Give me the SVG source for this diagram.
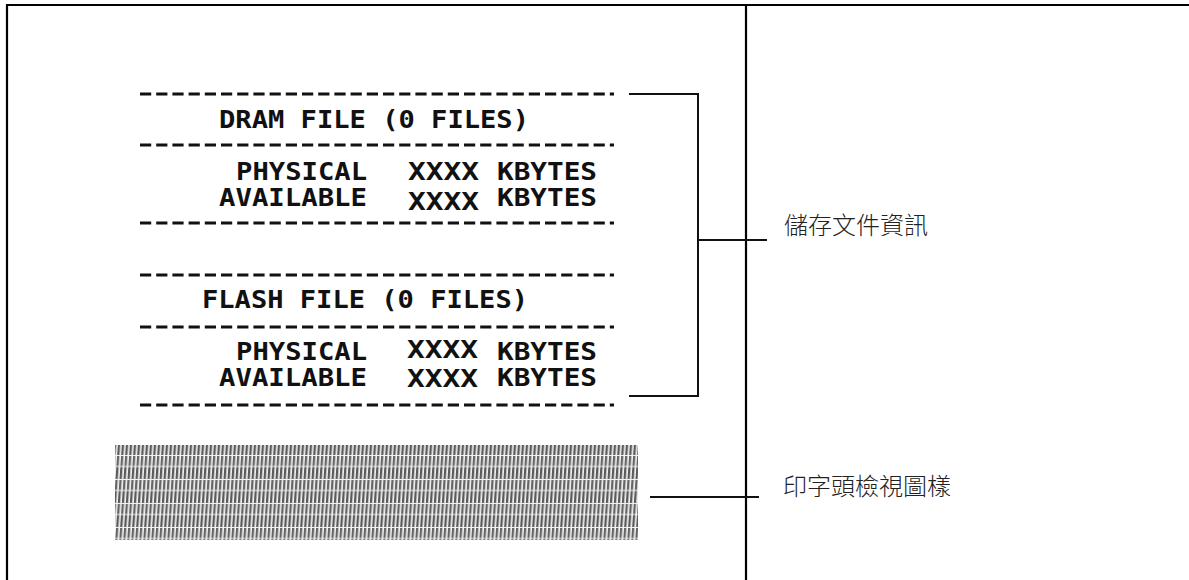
<svg xmlns="http://www.w3.org/2000/svg" width="1189" height="580" viewBox="0 0 1189 580">
<defs>
<style>
.frame{stroke:#000;stroke-width:2.2;fill:none}
.conn{stroke:#111;stroke-width:2;fill:none}
.dash{stroke:#111;stroke-width:3.2;stroke-dasharray:11.2 5}
.pt{font-family:"DejaVu Sans Mono","Liberation Mono",monospace;font-weight:bold;font-size:24px;fill:#111}
.lbl{font-family:"Noto Sans CJK TC","Noto Sans CJK SC",sans-serif;font-weight:300;font-size:24px;fill:#222}
</style>
<pattern id="stripes" patternUnits="userSpaceOnUse" width="4" height="24" patternTransform="skewX(-4)">
<rect x="0" y="0" width="4" height="24" fill="#f2f2f2"/>
<rect x="1" y="0" width="2.3" height="10" fill="#666"/>
<rect x="1" y="11" width="2.3" height="12" fill="#5a5a5a"/>
</pattern>
</defs>
<rect width="1189" height="580" fill="#fff"/>
<g id="frame">
<line class="frame" x1="6" y1="5" x2="1189" y2="5"/>
<line class="frame" x1="7" y1="4" x2="7" y2="580"/>
<line class="frame" x1="746" y1="5" x2="746" y2="580"/>
</g>
<g id="printout">
<line class="dash" x1="140" y1="94" x2="614" y2="94"/>
<text class="pt" x="219" y="128" textLength="310" lengthAdjust="spacingAndGlyphs">DRAM FILE (0 FILES)</text>
<line class="dash" x1="140" y1="145" x2="614" y2="145"/>
<text class="pt" x="236" y="180" textLength="131" lengthAdjust="spacingAndGlyphs">PHYSICAL</text>
<text class="pt" x="408" y="180" textLength="71" lengthAdjust="spacingAndGlyphs">XXXX</text>
<text class="pt" x="497" y="180" textLength="100" lengthAdjust="spacingAndGlyphs">KBYTES</text>
<text class="pt" x="219" y="206" textLength="148" lengthAdjust="spacingAndGlyphs">AVAILABLE</text>
<text class="pt" x="408" y="210" textLength="71" lengthAdjust="spacingAndGlyphs">XXXX</text>
<text class="pt" x="497" y="206" textLength="100" lengthAdjust="spacingAndGlyphs">KBYTES</text>
<line class="dash" x1="140" y1="223" x2="614" y2="223"/>
<line class="dash" x1="140" y1="275" x2="614" y2="275"/>
<text class="pt" x="202" y="308" textLength="326" lengthAdjust="spacingAndGlyphs">FLASH FILE (0 FILES)</text>
<line class="dash" x1="140" y1="327" x2="614" y2="327"/>
<text class="pt" x="236" y="360" textLength="131" lengthAdjust="spacingAndGlyphs">PHYSICAL</text>
<text class="pt" x="407" y="358" textLength="71" lengthAdjust="spacingAndGlyphs">XXXX</text>
<text class="pt" x="497" y="360" textLength="100" lengthAdjust="spacingAndGlyphs">KBYTES</text>
<text class="pt" x="219" y="386" textLength="148" lengthAdjust="spacingAndGlyphs">AVAILABLE</text>
<text class="pt" x="407" y="387" textLength="71" lengthAdjust="spacingAndGlyphs">XXXX</text>
<text class="pt" x="497" y="386" textLength="100" lengthAdjust="spacingAndGlyphs">KBYTES</text>
<line class="dash" x1="140" y1="405" x2="614" y2="405"/>
</g>
<g id="head-pattern">
<rect x="115" y="445" width="523" height="95" fill="url(#stripes)"/>
</g>
<g id="connectors">
<polyline class="conn" points="629,94 698,94 698,396 629,396"/>
<line class="conn" x1="698" y1="240" x2="767" y2="240"/>
<line class="conn" x1="650" y1="497" x2="759" y2="497"/>
</g>
<g id="label-storage">
<text class="lbl" x="784" y="234">儲存文件資訊</text>
</g>
<g id="label-head">
<text class="lbl" x="783" y="495">印字頭檢視圖樣</text>
</g>
</svg>
